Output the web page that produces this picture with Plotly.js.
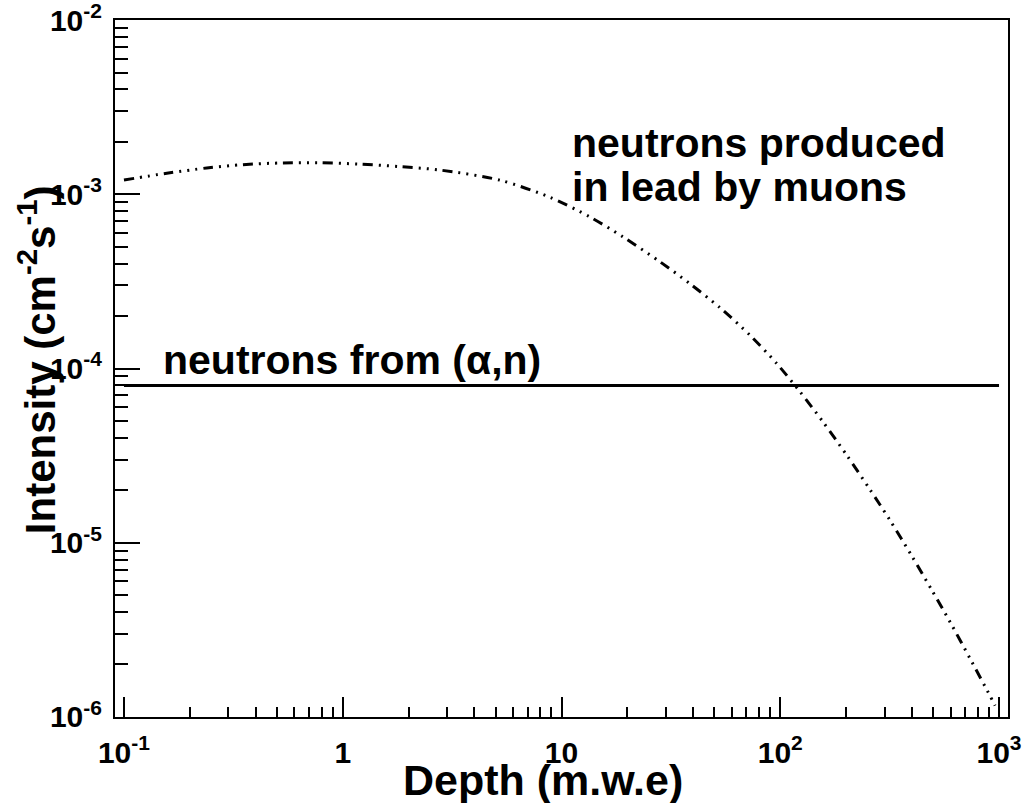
<!DOCTYPE html>
<html>
<head>
<meta charset="utf-8">
<script src="https://cdn.plot.ly/plotly-3.0.1.min.js"></script>
<style>
  html, body { margin: 0; padding: 0; background: #fff; }
  #plot { width: 1026px; height: 803px; }
</style>
</head>
<body>
<div id="plot"></div>
<script>
// Neutron flux from muon interactions in lead versus depth (m.w.e)
const muonDepth = [0.1, 0.157, 0.239, 0.35, 0.533, 0.787, 1.2, 1.83, 2.79, 5.24, 8.85, 13.5, 19.1, 28.2, 38.6, 53.1, 72.8, 96.6, 123, 157, 202, 257, 318, 400, 494, 597, 736, 910, 959];
const muonFlux = [1.208e-3, 1.321e-3, 1.416e-3, 1.479e-3, 1.514e-3, 1.517e-3, 1.489e-3, 1.442e-3, 1.377e-3, 1.205e-3, 9.62e-4, 7.41e-4, 5.69e-4, 4.10e-4, 3.07e-4, 2.23e-4, 1.55e-4, 1.064e-4, 7.36e-5, 4.93e-5, 3.16e-5, 2.02e-5, 1.34e-5, 8.36e-6, 5.32e-6, 3.51e-6, 2.17e-6, 1.32e-6, 1.16e-6];

// Constant (alpha,n) neutron flux
const alphaDepth = [0.1, 1000];
const alphaFlux = [8e-5, 8e-5];

// Axis tick labels
const xTickVals = [0.1, 1, 10, 100, 1000];
const xTickText = ['10<sup>-1</sup>', '1', '10', '10<sup>2</sup>', '10<sup>3</sup>'];
const yTickVals = [1e-6, 1e-5, 1e-4, 1e-3, 1e-2];
const yTickText = ['10<sup>-6</sup>', '10<sup>-5</sup>', '10<sup>-4</sup>', '10<sup>-3</sup>', '10<sup>-2</sup>'];

const FONT = 'Liberation Sans, Arial, sans-serif';

const traces = [
  {
    x: muonDepth, y: muonFlux, type: 'scatter', mode: 'lines',
    line: { color: '#000', width: 3, shape: 'spline', smoothing: 0.8, dash: '10px,6px,2px,6px,2px,6px,2px,6px' },
    hoverinfo: 'skip'
  },
  {
    x: alphaDepth, y: alphaFlux, type: 'scatter', mode: 'lines',
    line: { color: '#000', width: 3 },
    hoverinfo: 'skip'
  }
];

const layout = {
  width: 1026, height: 803,
  margin: { l: 115, r: 18, t: 20, b: 86 },
  paper_bgcolor: '#fff', plot_bgcolor: '#fff',
  showlegend: false,
  font: { family: FONT, color: '#000' },
  xaxis: {
    type: 'log', range: [-1.041, 3.041],
    showline: true, mirror: true, linecolor: '#000', linewidth: 2,
    showgrid: false, zeroline: false,
    ticks: 'inside', ticklen: 20, tickwidth: 2, tickcolor: '#000',
    tickvals: xTickVals, ticktext: xTickText,
    tickfont: { family: FONT, size: 30, weight: 'bold', color: '#000' },
    ticklabelstandoff: 8, ticklabeloverflow: 'allow',
    minor: { ticks: 'inside', ticklen: 10, tickwidth: 2, tickcolor: '#000', dtick: 'D1', showgrid: false }
  },
  yaxis: {
    type: 'log', range: [-6.0005, -1.9995],
    showline: true, mirror: true, linecolor: '#000', linewidth: 2,
    showgrid: false, zeroline: false,
    ticks: 'inside', ticklen: 25, tickwidth: 2, tickcolor: '#000',
    tickvals: yTickVals, ticktext: yTickText,
    tickfont: { family: FONT, size: 30, weight: 'bold', color: '#000' },
    ticklabelstandoff: 5, ticklabeloverflow: 'allow',
    minor: { ticks: 'inside', ticklen: 13, tickwidth: 2, tickcolor: '#000', dtick: 'D1', showgrid: false }
  },
  annotations: [
    {
      text: 'Depth (m.w.e)', xref: 'paper', yref: 'paper', x: 0.479, y: -0.09,
      xanchor: 'center', yanchor: 'middle', showarrow: false,
      font: { family: FONT, size: 43, weight: 'bold', color: '#000' }
    },
    {
      text: 'Intensity (cm<sup>-2</sup>s<sup>-1</sup>)', xref: 'paper', yref: 'paper', x: -0.0873, y: 0.512,
      xanchor: 'center', yanchor: 'middle', textangle: -90, showarrow: false,
      font: { family: FONT, size: 42, weight: 'bold', color: '#000' }
    },
    {
      text: 'neutrons produced', xref: 'paper', yref: 'paper', x: 0.509, y: 0.8235,
      xanchor: 'left', yanchor: 'middle', showarrow: false,
      font: { family: FONT, size: 41, weight: 'bold', color: '#000' }
    },
    {
      text: 'in lead by muons', xref: 'paper', yref: 'paper', x: 0.509, y: 0.7604,
      xanchor: 'left', yanchor: 'middle', showarrow: false,
      font: { family: FONT, size: 41, weight: 'bold', color: '#000' }
    },
    {
      text: 'neutrons from (α,n)', xref: 'paper', yref: 'paper', x: 0.052, y: 0.512,
      xanchor: 'left', yanchor: 'middle', showarrow: false,
      font: { family: FONT, size: 41, weight: 'bold', color: '#000' }
    }
  ]
};

Plotly.newPlot('plot', traces, layout, { staticPlot: true, displayModeBar: false });
</script>
</body>
</html>
